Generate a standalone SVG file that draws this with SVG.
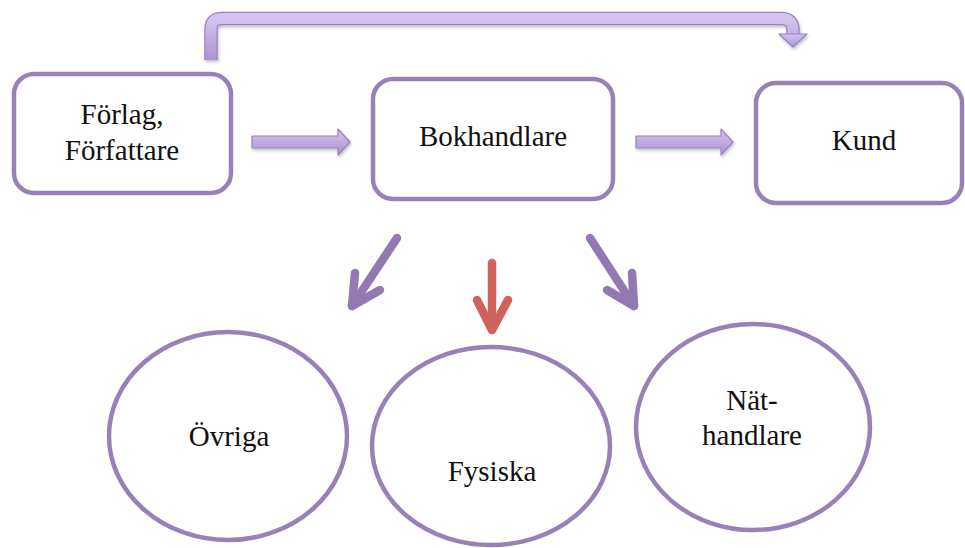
<svg xmlns="http://www.w3.org/2000/svg" width="965" height="548" viewBox="0 0 965 548">
  <style>
    .box { fill: #ffffff; stroke: #9a80b9; stroke-width: 4.5; }
    .lbl { font-family: "Liberation Serif", "Times New Roman", serif; font-size: 29px; fill: #111111; text-anchor: middle; }
    .block { fill: url(#blockFill); stroke: #9a82bf; stroke-width: 1.2; stroke-linejoin: round; }
    .thin { fill: none; stroke-width: 8.5; stroke-linecap: round; stroke-linejoin: round; }
    .purple { stroke: #9279b2; }
    .red { stroke: #cf625a; }
  </style>
  <defs>
    <linearGradient id="blockFill" x1="0" y1="0" x2="0" y2="1">
      <stop offset="0" stop-color="#d4c3ee"/>
      <stop offset="1" stop-color="#ad93d2"/>
    </linearGradient>
    <filter id="soft" x="-10%" y="-30%" width="120%" height="160%">
      <feDropShadow dx="1" dy="2" stdDeviation="1.5" flood-color="#000" flood-opacity="0.25"/>
    </filter>
  </defs>

  <!-- connectors -->
  <g id="connectors">
    <!-- bent arrow over the top row -->
    <g filter="url(#soft)">
      <path d="M211 60 V29 Q211 18.5 222 18.5 H781 Q793 18.5 793 30 V36" fill="none" stroke="#9a82bf" stroke-width="13.5"/>
      <path d="M211 60 V29 Q211 18.5 222 18.5 H781 Q793 18.5 793 30 V36" fill="none" stroke="url(#blockFill)" stroke-width="11"/>
      <polygon class="block" points="779,34 807,34 793,47"/>
    </g>
    <!-- straight block arrows -->
    <polygon class="block" filter="url(#soft)" points="252,136 338,136 338,129 350,142 338,155 338,148 252,148"/>
    <polygon class="block" filter="url(#soft)" points="636,136 721,136 721,129 733,142 721,155 721,148 636,148"/>
    <!-- arrows towards the channels -->
    <g class="thin purple">
      <line x1="397" y1="238" x2="352" y2="306"/>
      <polyline points="355,273 352,306 380,290"/>
    </g>
    <g class="thin red">
      <line x1="492" y1="263" x2="492" y2="330"/>
      <polyline points="477,300 492,330 508,300"/>
    </g>
    <g class="thin purple">
      <line x1="590" y1="238" x2="634" y2="306"/>
      <polyline points="632,273 634,306 607,290"/>
    </g>
  </g>

  <g id="forlag">
    <rect class="box" x="14" y="74" width="217" height="119" rx="20"/>
    <text class="lbl" x="122" y="124">Förlag,</text>
    <text class="lbl" x="122" y="160">Författare</text>
  </g>
  <g id="bokhandlare">
    <rect class="box" x="373" y="79" width="240" height="120" rx="20"/>
    <text class="lbl" x="493" y="146">Bokhandlare</text>
  </g>
  <g id="kund">
    <rect class="box" x="756" y="83" width="206" height="120" rx="20"/>
    <text class="lbl" x="864" y="150">Kund</text>
  </g>

  <g id="ovriga">
    <ellipse class="box" cx="228" cy="436" rx="119" ry="104"/>
    <text class="lbl" x="229" y="446">Övriga</text>
  </g>
  <g id="fysiska">
    <ellipse class="box" cx="491" cy="446" rx="119" ry="99"/>
    <text class="lbl" x="492" y="481">Fysiska</text>
  </g>
  <g id="nathandlare">
    <ellipse class="box" cx="753" cy="427" rx="117" ry="103"/>
    <text class="lbl" x="752" y="410">Nät-</text>
    <text class="lbl" x="752" y="445">handlare</text>
  </g>
</svg>
